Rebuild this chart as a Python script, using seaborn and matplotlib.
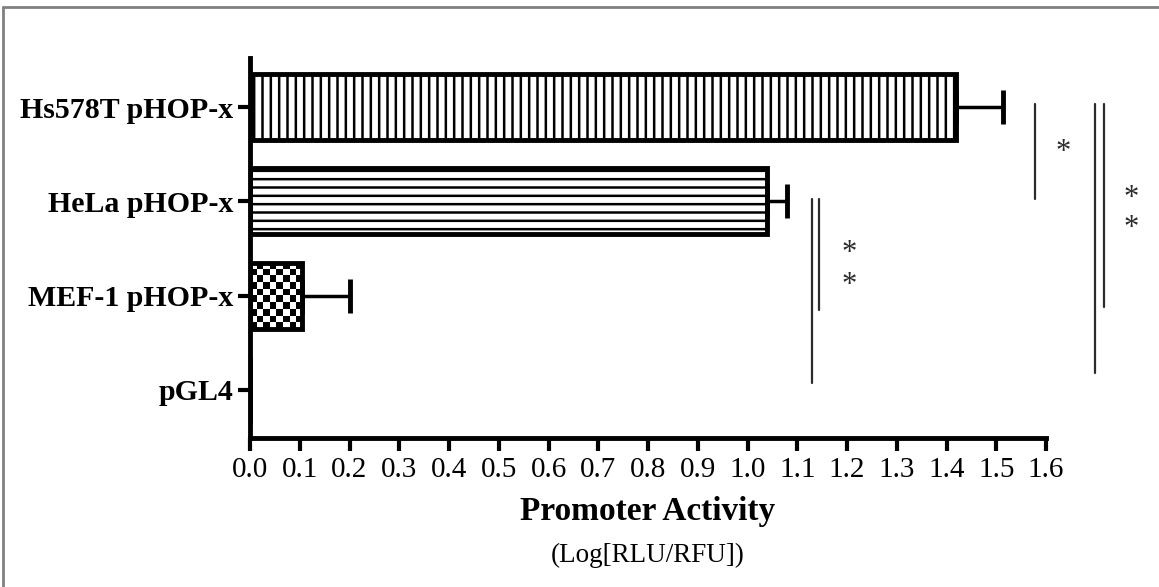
import numpy as np
import pandas as pd
import matplotlib
matplotlib.use("Agg")
import matplotlib.pyplot as plt
from matplotlib.lines import Line2D
import seaborn as sns

# Data
samples = ["Hs578T pHOP-x", "HeLa pHOP-x", "MEF-1 pHOP-x", "pGL4"]
activity = [1.42, 1.04, 0.105, 0.0]
sem = [0.093, 0.04, 0.095, 0.0]
hatches = ["||", "--", "checker", ""]

# significance brackets (x, y start, y end in category units) and stars (x, y)
sig_lines = [(1.129, 0.98, 2.93), (1.143, 0.98, 2.15),
             (1.577, -0.03, 0.98), (1.698, -0.03, 2.82), (1.716, -0.03, 2.12)]
sig_stars = [(1.205, 1.55), (1.205, 1.89), (1.634, 0.48), (1.771, 0.965), (1.771, 1.29)]

sns.set_theme(style="ticks")
plt.rcParams["font.family"] = ["Liberation Serif", "DejaVu Serif"]
plt.rcParams["hatch.linewidth"] = 1.8
plt.rcParams["hatch.color"] = "black"

fig = plt.figure(figsize=(11.59, 5.87), dpi=100)
ax = fig.add_axes([250 / 1159, 1 - 438 / 587, 796 / 1159, 380 / 587])

df = pd.DataFrame({"sample": samples, "activity": activity})
sns.barplot(data=df, x="activity", y="sample", order=samples, color="white",
            edgecolor="black", linewidth=3.5, width=0.7, errorbar=None, ax=ax)

for patch, h in zip(ax.patches, hatches):
    patch.set_facecolor("white")
    patch.set_edgecolor("black")
    if h == "checker":
        # checkerboard fill, ~6.5 px squares
        x0, y0 = patch.get_x(), patch.get_y()
        w, hgt = patch.get_width(), patch.get_height()
        nx = max(1, int(round(w * 497 / 6.5)))
        ny = max(1, int(round(hgt * 94.3 / 6.5)))
        board = (np.indices((ny, nx)).sum(axis=0) % 2).astype(float)
        patch.set_facecolor("none")
        im = ax.imshow(board, cmap="gray_r", extent=[x0, x0 + w, y0 + hgt, y0],
                       aspect="auto", interpolation="nearest", zorder=0.5)
        im.set_clip_path(patch)
    elif h:
        patch.set_hatch(h)

# one-sided error bars
idx = [i for i, e in enumerate(sem) if e > 0]
ax.errorbar([activity[i] for i in idx], idx,
            xerr=[[0] * len(idx), [sem[i] for i in idx]],
            fmt="none", ecolor="black", elinewidth=2.5, capsize=12.5, capthick=3.5,
            zorder=3)

ax.set_xlim(0, 1.6)
ax.set_ylim(3.51, -0.52)
ax.set_xticks(np.round(np.arange(0, 1.61, 0.1), 1))
ax.set_xticklabels([f"{v:.1f}" for v in np.arange(0, 1.61, 0.1)])

sns.despine(ax=ax)
for s in ["left", "bottom"]:
    ax.spines[s].set_linewidth(3.5)
    ax.spines[s].set_color("black")
ax.tick_params(axis="x", length=9, width=3, labelsize=21, pad=5, colors="black")
ax.tick_params(axis="y", length=9, width=3, labelsize=21.5, pad=3, colors="black")
for lab in ax.get_yticklabels():
    lab.set_fontweight("bold")

ax.set_ylabel("")
ax.set_xlabel("Promoter Activity", fontsize=24, fontweight="bold", labelpad=9, color="black")
fig.text(648 / 1159, 1 - 555 / 587, "(Log[RLU/RFU])", ha="center", va="center",
         fontsize=19.5, color="black")

for x, ya, yb in sig_lines:
    ax.plot([x, x], [ya, yb], color="#2b2b2b", lw=1.6, clip_on=False)
for x, y in sig_stars:
    ax.text(x, y, "*", ha="center", va="center", fontsize=22, color="#2b2b2b", clip_on=False)

# grey frame on the top and left edges
fig.add_artist(Line2D([3 / 1159, 1], [1 - 7 / 587] * 2, transform=fig.transFigure,
                      color="#808080", lw=2))
fig.add_artist(Line2D([3 / 1159] * 2, [0, 1 - 7 / 587], transform=fig.transFigure,
                      color="#808080", lw=2))

fig.savefig("out.png", dpi=100)
